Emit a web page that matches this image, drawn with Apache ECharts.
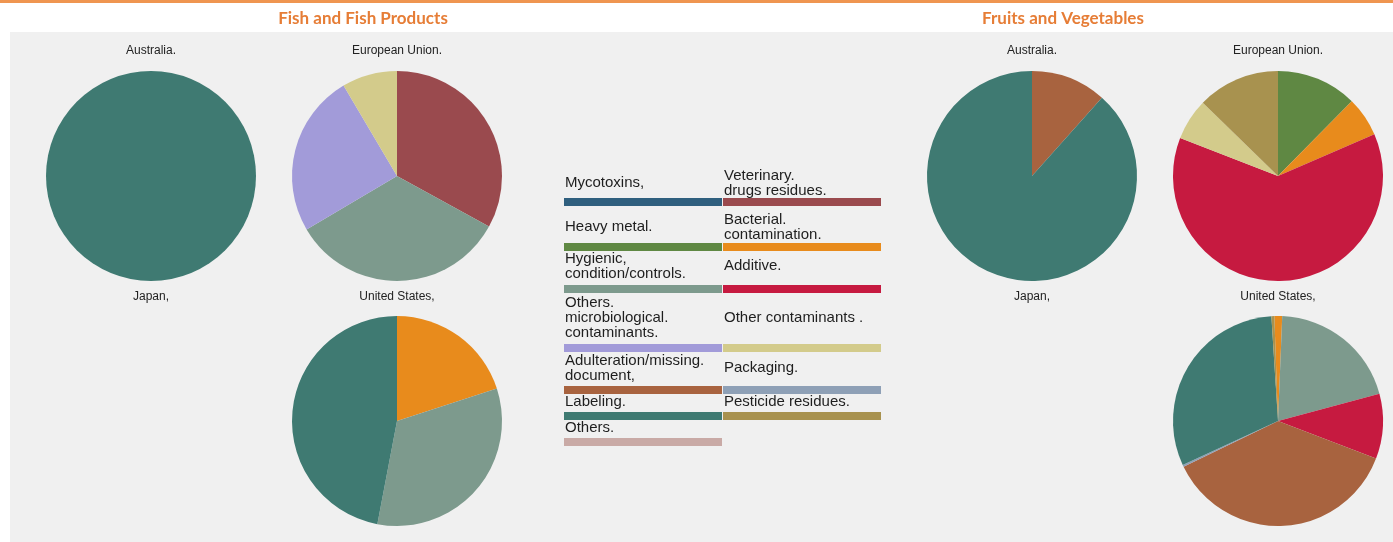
<!DOCTYPE html>
<html>
<head>
<meta charset="utf-8">
<title>Rejections by cause</title>
<script src="https://cdn.jsdelivr.net/npm/echarts@6/dist/echarts.min.js"></script>
<style>
  html, body { margin: 0; padding: 0; background: #fff; }
  #chart { width: 1393px; height: 542px; }
</style>
</head>
<body>
<div id="chart"></div>
<script>
// categories, in legend / slice order
var categories = [
  "Mycotoxins", "Veterinary drugs residues", "Heavy metal", "Bacterial contamination",
  "Hygienic condition/controls", "Additive", "Others microbiological contaminants",
  "Other contaminants", "Adulteration/missing document", "Packaging", "Labeling",
  "Pesticide residues", "Others"
];
var legendLabels = [
  "Mycotoxins,", "Veterinary.\ndrugs residues.", "Heavy metal.", "Bacterial.\ncontamination.",
  "Hygienic,\ncondition/controls.", "Additive.", "Others.\nmicrobiological.\ncontaminants.",
  "Other contaminants .", "Adulteration/missing.\ndocument,", "Packaging.", "Labeling.",
  "Pesticide residues.", "Others."
];

// shares (%) per category
var fishAustralia = [0, 0, 0, 0, 0, 0, 0, 0, 0, 0, 100, 0, 0];
var fishEU        = [0, 33, 0, 0, 33.5, 0, 25, 8.5, 0, 0, 0, 0, 0];
var fishUS        = [0, 0, 0, 20, 33, 0, 0, 0, 0, 0, 47, 0, 0];
var fvAustralia   = [0, 0, 0, 0, 0, 0, 0, 0, 11.6, 0, 88.4, 0, 0];
var fvEU          = [0, 0, 12.4, 6.1, 0, 62.4, 0, 6.4, 0, 0, 0, 12.7, 0];
var fvUS          = [0, 0, 0, 1.2, 20.2, 10, 0, 0, 37, 0.3, 30.9, 0.45, 0];

var palette = [
  "#2f5f7e", "#9a4a4e", "#5f8843", "#e88b1c", "#7d9a8d", "#c61a40", "#a29bd9",
  "#d3cb8b", "#a8633f", "#8ea0b6", "#3f7a72", "#a8924f", "#c9aaa6"
];

var chart = echarts.init(document.getElementById("chart"));

function pieData(values) {
  var out = [];
  values.forEach(function (v, i) {
    if (v > 0) {
      out.push({ name: categories[i], value: v, itemStyle: { color: palette[i] } });
    }
  });
  return out;
}

function pie(values, cx, cy, start) {
  return {
    type: "pie",
    center: [cx, cy],
    radius: 105,
    startAngle: start || 90,
    clockwise: true,
    label: { show: false },
    labelLine: { show: false },
    emphasis: { disabled: true },
    itemStyle: { borderWidth: 0 },
    data: pieData(values)
  };
}

var pieTitles = [
  ["Australia.", 151, 45], ["European Union.", 397, 45], ["Japan,", 151, 291], ["United States,", 397, 291],
  ["Australia.", 1032, 45], ["European Union.", 1278, 45], ["Japan,", 1032, 291], ["United States,", 1278, 291]
];

var titles = [
  { text: "Fish and Fish Products", left: 358, top: 5, textAlign: "center",
    textStyle: { color: "#e67d36", fontSize: 17, fontWeight: "bold", fontFamily: "Lato" } },
  { text: "Fruits and Vegetables", left: 1058, top: 5, textAlign: "center",
    textStyle: { color: "#e67d36", fontSize: 17, fontWeight: "bold", fontFamily: "Lato" } }
];
pieTitles.forEach(function (t) {
  titles.push({
    text: t[0], left: t[1], top: t[2], textAlign: "center", padding: 0,
    textStyle: { color: "#222", fontSize: 12, fontWeight: "normal", fontFamily: "Liberation Sans" }
  });
});

// legend: text over a colour bar, two columns
var barTops = [198, 243, 285, 344, 386, 412, 438];
var textMid = [183, 227, 266, 318, 368, 402, 428];
var colX = [564, 723];
var legendItems = [];
categories.forEach(function (c, i) {
  var row = Math.floor(i / 2), col = i % 2;
  legendItems.push({
    type: "rect", silent: true,
    shape: { x: colX[col], y: barTops[row], width: 158, height: 8 },
    style: { fill: palette[i] }
  });
  legendItems.push({
    type: "text", silent: true,
    x: colX[col] + 1, y: textMid[row],
    style: {
      text: legendLabels[i], fill: "#1e1e1e", fontSize: 15, lineHeight: 15,
      fontFamily: "Liberation Sans", verticalAlign: "middle", align: "left"
    }
  });
});

chart.setOption({
  animation: false,
  title: titles,
  graphic: [
    { type: "rect", z: -10, silent: true, shape: { x: 0, y: 0, width: 1393, height: 3 }, style: { fill: "#ef9550" } },
    { type: "rect", z: -10, silent: true, shape: { x: 10, y: 32, width: 1383, height: 510 }, style: { fill: "#f0f0f0" } }
  ].concat(legendItems),
  series: [
    pie(fishAustralia, 151, 176),
    pie(fishEU, 397, 176),
    pie(fishUS, 397, 421),
    pie(fvAustralia, 1032, 176),
    pie(fvEU, 1278, 176),
    pie(fvUS, 1278, 421, 92)
  ]
});
</script>
</body>
</html>
